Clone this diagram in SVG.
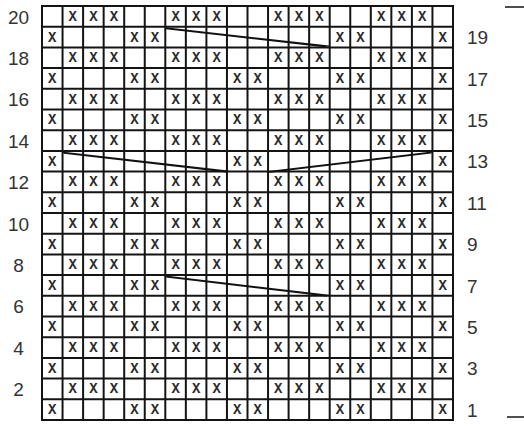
<svg xmlns="http://www.w3.org/2000/svg" width="524" height="426" viewBox="0 0 524 426">
<style>
.grid{fill:none;stroke:#141414;stroke-width:2}
.x{font-family:"Liberation Mono","Courier New",monospace;font-size:14px;font-weight:bold;fill:#2a2a2a;text-anchor:middle}
.lbl{font-family:"Liberation Sans",Arial,sans-serif;font-size:19px;fill:#333}
.l{text-anchor:middle}
.cable{stroke:#111;stroke-width:1.2;fill:none;stroke-linecap:round}
.tick{stroke:#222;stroke-width:1.6}
</style>
<rect width="524" height="426" fill="#fff"/>
<g id="grid">
<rect class="grid" x="42" y="6" width="411" height="414"/>
<path class="grid" d="M62.55 6V420M83.1 6V420M103.65 6V420M124.2 6V420M144.75 6V420M165.3 6V420M185.85 6V420M206.4 6V420M226.95 6V420M247.5 6V420M268.05 6V420M288.6 6V420M309.15 6V420M329.7 6V420M350.25 6V420M370.8 6V420M391.35 6V420M411.9 6V420M432.45 6V420M42 26.7H453M42 47.4H453M42 68.1H453M42 88.8H453M42 109.5H453M42 130.2H453M42 150.9H453M42 171.6H453M42 192.3H453M42 213H453M42 233.7H453M42 254.4H453M42 275.1H453M42 295.8H453M42 316.5H453M42 337.2H453M42 357.9H453M42 378.6H453M42 399.3H453"/>
</g>
<g id="row20" class="x" transform="translate(0,20.85)"><text x="72.8">X</text><text x="93.4">X</text><text x="113.9">X</text><text x="175.6">X</text><text x="196.1">X</text><text x="216.7">X</text><text x="278.3">X</text><text x="298.9">X</text><text x="319.4">X</text><text x="381.1">X</text><text x="401.6">X</text><text x="422.2">X</text></g>
<g id="row19" class="x" transform="translate(0,41.55)"><text x="52.3">X</text><text x="134.5">X</text><text x="155">X</text><text x="340">X</text><text x="360.5">X</text><text x="442.7">X</text></g>
<g id="row18" class="x" transform="translate(0,62.25)"><text x="72.8">X</text><text x="93.4">X</text><text x="113.9">X</text><text x="175.6">X</text><text x="196.1">X</text><text x="216.7">X</text><text x="278.3">X</text><text x="298.9">X</text><text x="319.4">X</text><text x="381.1">X</text><text x="401.6">X</text><text x="422.2">X</text></g>
<g id="row17" class="x" transform="translate(0,82.95)"><text x="52.3">X</text><text x="134.5">X</text><text x="155">X</text><text x="237.2">X</text><text x="257.8">X</text><text x="340">X</text><text x="360.5">X</text><text x="442.7">X</text></g>
<g id="row16" class="x" transform="translate(0,103.65)"><text x="72.8">X</text><text x="93.4">X</text><text x="113.9">X</text><text x="175.6">X</text><text x="196.1">X</text><text x="216.7">X</text><text x="278.3">X</text><text x="298.9">X</text><text x="319.4">X</text><text x="381.1">X</text><text x="401.6">X</text><text x="422.2">X</text></g>
<g id="row15" class="x" transform="translate(0,124.35)"><text x="52.3">X</text><text x="134.5">X</text><text x="155">X</text><text x="237.2">X</text><text x="257.8">X</text><text x="340">X</text><text x="360.5">X</text><text x="442.7">X</text></g>
<g id="row14" class="x" transform="translate(0,145.05)"><text x="72.8">X</text><text x="93.4">X</text><text x="113.9">X</text><text x="175.6">X</text><text x="196.1">X</text><text x="216.7">X</text><text x="278.3">X</text><text x="298.9">X</text><text x="319.4">X</text><text x="381.1">X</text><text x="401.6">X</text><text x="422.2">X</text></g>
<g id="row13" class="x" transform="translate(0,165.75)"><text x="52.3">X</text><text x="237.2">X</text><text x="257.8">X</text><text x="442.7">X</text></g>
<g id="row12" class="x" transform="translate(0,186.45)"><text x="72.8">X</text><text x="93.4">X</text><text x="113.9">X</text><text x="175.6">X</text><text x="196.1">X</text><text x="216.7">X</text><text x="278.3">X</text><text x="298.9">X</text><text x="319.4">X</text><text x="381.1">X</text><text x="401.6">X</text><text x="422.2">X</text></g>
<g id="row11" class="x" transform="translate(0,207.15)"><text x="52.3">X</text><text x="134.5">X</text><text x="155">X</text><text x="237.2">X</text><text x="257.8">X</text><text x="340">X</text><text x="360.5">X</text><text x="442.7">X</text></g>
<g id="row10" class="x" transform="translate(0,227.85)"><text x="72.8">X</text><text x="93.4">X</text><text x="113.9">X</text><text x="175.6">X</text><text x="196.1">X</text><text x="216.7">X</text><text x="278.3">X</text><text x="298.9">X</text><text x="319.4">X</text><text x="381.1">X</text><text x="401.6">X</text><text x="422.2">X</text></g>
<g id="row9" class="x" transform="translate(0,248.55)"><text x="52.3">X</text><text x="134.5">X</text><text x="155">X</text><text x="237.2">X</text><text x="257.8">X</text><text x="340">X</text><text x="360.5">X</text><text x="442.7">X</text></g>
<g id="row8" class="x" transform="translate(0,269.25)"><text x="72.8">X</text><text x="93.4">X</text><text x="113.9">X</text><text x="175.6">X</text><text x="196.1">X</text><text x="216.7">X</text><text x="278.3">X</text><text x="298.9">X</text><text x="319.4">X</text><text x="381.1">X</text><text x="401.6">X</text><text x="422.2">X</text></g>
<g id="row7" class="x" transform="translate(0,289.95)"><text x="52.3">X</text><text x="134.5">X</text><text x="155">X</text><text x="340">X</text><text x="360.5">X</text><text x="442.7">X</text></g>
<g id="row6" class="x" transform="translate(0,310.65)"><text x="72.8">X</text><text x="93.4">X</text><text x="113.9">X</text><text x="175.6">X</text><text x="196.1">X</text><text x="216.7">X</text><text x="278.3">X</text><text x="298.9">X</text><text x="319.4">X</text><text x="381.1">X</text><text x="401.6">X</text><text x="422.2">X</text></g>
<g id="row5" class="x" transform="translate(0,331.35)"><text x="52.3">X</text><text x="134.5">X</text><text x="155">X</text><text x="237.2">X</text><text x="257.8">X</text><text x="340">X</text><text x="360.5">X</text><text x="442.7">X</text></g>
<g id="row4" class="x" transform="translate(0,352.05)"><text x="72.8">X</text><text x="93.4">X</text><text x="113.9">X</text><text x="175.6">X</text><text x="196.1">X</text><text x="216.7">X</text><text x="278.3">X</text><text x="298.9">X</text><text x="319.4">X</text><text x="381.1">X</text><text x="401.6">X</text><text x="422.2">X</text></g>
<g id="row3" class="x" transform="translate(0,372.75)"><text x="52.3">X</text><text x="134.5">X</text><text x="155">X</text><text x="237.2">X</text><text x="257.8">X</text><text x="340">X</text><text x="360.5">X</text><text x="442.7">X</text></g>
<g id="row2" class="x" transform="translate(0,393.45)"><text x="72.8">X</text><text x="93.4">X</text><text x="113.9">X</text><text x="175.6">X</text><text x="196.1">X</text><text x="216.7">X</text><text x="278.3">X</text><text x="298.9">X</text><text x="319.4">X</text><text x="381.1">X</text><text x="401.6">X</text><text x="422.2">X</text></g>
<g id="row1" class="x" transform="translate(0,414.15)"><text x="52.3">X</text><text x="134.5">X</text><text x="155">X</text><text x="237.2">X</text><text x="257.8">X</text><text x="340">X</text><text x="360.5">X</text><text x="442.7">X</text></g>
<g id="connectors">
<path class="cable" d="M165.5 27.8L329 46.2M166 28.6L326 46.8"/>
<path class="cable" d="M63.5 152.3L228 171.2M64 153.1L226 171.8"/>
<path class="cable" d="M268.5 171.6L432 152.2M270 172.2L431 153"/>
<path class="cable" d="M165.5 276.2L329 295.3M166 277L326 295.9"/>
</g>
<g id="labels-left" class="lbl l">
<text x="18.5" y="23.5">20</text><text x="18.5" y="64.9">18</text><text x="18.5" y="106.3">16</text><text x="18.5" y="147.7">14</text><text x="18.5" y="189.1">12</text><text x="18.5" y="230.5">10</text><text x="18.5" y="271.9">8</text><text x="18.5" y="313.3">6</text><text x="18.5" y="354.7">4</text><text x="18.5" y="396.1">2</text>
</g>
<g id="labels-right" class="lbl">
<text x="467" y="44.2">19</text><text x="467" y="85.6">17</text><text x="467" y="127">15</text><text x="467" y="168.4">13</text><text x="467" y="209.8">11</text><text x="467" y="251.2">9</text><text x="467" y="292.6">7</text><text x="467" y="334">5</text><text x="467" y="375.4">3</text><text x="467" y="416.8">1</text>
</g>
<g id="ticks">
<line class="tick" x1="505" y1="7" x2="524" y2="7"/>
<line class="tick" x1="507" y1="417" x2="524" y2="417"/>
</g>
</svg>
